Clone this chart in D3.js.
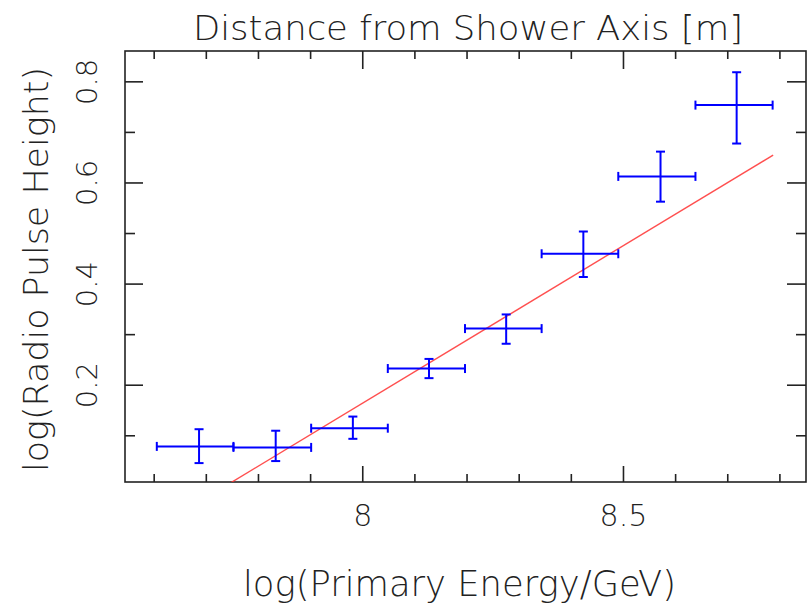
<!DOCTYPE html>
<html>
<head>
<meta charset="utf-8">
<script src="https://cdn.jsdelivr.net/npm/d3@7"></script>
<style>
  html, body { margin: 0; padding: 0; background: #fff; }
  svg { display: block; }
  text { font-family: "DejaVu Sans", "Liberation Sans", sans-serif; font-weight: 200; fill: #222; }
</style>
</head>
<body>
<svg id="chart" width="812" height="606"></svg>
<script>
// ---- data ----
const xCenter = [7.687, 7.834, 7.982, 8.128, 8.276, 8.424, 8.572, 8.718];
const xLow    = [7.606, 7.753, 7.902, 8.049, 8.197, 8.344, 8.491, 8.639];
const xHigh   = [7.753, 7.902, 8.049, 8.197, 8.344, 8.491, 8.639, 8.787];
const yValue  = [0.078, 0.076, 0.114, 0.232, 0.311, 0.459, 0.612, 0.753];
const yLow    = [0.045, 0.049, 0.093, 0.213, 0.281, 0.413, 0.562, 0.677];
const yHigh   = [0.112, 0.109, 0.137, 0.251, 0.339, 0.503, 0.661, 0.818];
const fitX = [7.60, 8.788];
const fitY = [-0.086, 0.654];
const xMajorTicks = [8, 8.5];
const xMinorTicks = [7.6, 7.7, 7.8, 7.9, 8.1, 8.2, 8.3, 8.4, 8.6, 8.7, 8.8];
const yMajorTicks = [0.2, 0.4, 0.6, 0.8];
const yMinorTicks = [0.1, 0.3, 0.5, 0.7];
const xTickLabels = ["8", "8.5"];
const yTickLabels = ["0.2", "0.4", "0.6", "0.8"];
const titleText = "Distance from Shower Axis [m]";
const xLabelText = "log(Primary Energy/GeV)";
const yLabelText = "log(Radio Pulse Height)";

// ---- layout ----
const L = 125, R = 806, T = 51, B = 482;
const svg = d3.select("#chart");
const x = d3.scaleLinear().domain([7.545, 8.851]).range([L, R]);
const y = d3.scaleLinear().domain([0.0076, 0.86]).range([B, T]);

svg.append("defs").append("clipPath").attr("id", "plotclip")
  .append("rect").attr("x", L).attr("y", T).attr("width", R - L).attr("height", B - T);

// axes (inward ticks on all four sides)
function styleAxis(g) {
  g.select(".domain").remove();
  g.selectAll(".tick line").attr("stroke", "#222").attr("stroke-width", 1.6);
}
// bottom
svg.append("g").attr("transform", `translate(0,${B})`)
  .call(d3.axisBottom(x).tickValues(xMinorTicks).tickSize(-8).tickFormat(""))
  .call(styleAxis);
const bx = svg.append("g").attr("transform", `translate(0,${B})`)
  .call(d3.axisBottom(x).tickValues(xMajorTicks).tickSize(-16)
        .tickFormat((d, i) => xTickLabels[i]))
  .call(styleAxis);
bx.selectAll(".tick text").attr("y", 44).attr("dy", null)
  .attr("font-size", 30).attr("fill", "#222").attr("font-family", null);
// top
svg.append("g").attr("transform", `translate(0,${T})`)
  .call(d3.axisTop(x).tickValues(xMinorTicks).tickSize(-8).tickFormat(""))
  .call(styleAxis);
svg.append("g").attr("transform", `translate(0,${T})`)
  .call(d3.axisTop(x).tickValues(xMajorTicks).tickSize(-18).tickFormat(""))
  .call(styleAxis);
// left
svg.append("g").attr("transform", `translate(${L},0)`)
  .call(d3.axisLeft(y).tickValues(yMinorTicks).tickSize(-10).tickFormat(""))
  .call(styleAxis);
const ly = svg.append("g").attr("transform", `translate(${L},0)`)
  .call(d3.axisLeft(y).tickValues(yMajorTicks).tickSize(-18)
        .tickFormat((d, i) => yTickLabels[i]))
  .call(styleAxis);
ly.selectAll(".tick text").attr("x", null).attr("dy", null)
  .attr("text-anchor", "middle").attr("transform", "translate(-28,0) rotate(-90)")
  .attr("font-size", 29).attr("fill", "#222").attr("font-family", null);
// right
svg.append("g").attr("transform", `translate(${R},0)`)
  .call(d3.axisRight(y).tickValues(yMinorTicks).tickSize(-10).tickFormat(""))
  .call(styleAxis);
svg.append("g").attr("transform", `translate(${R},0)`)
  .call(d3.axisRight(y).tickValues(yMajorTicks).tickSize(-19).tickFormat(""))
  .call(styleAxis);

// frame
svg.append("rect").attr("x", L).attr("y", T).attr("width", R - L).attr("height", B - T)
  .attr("fill", "none").attr("stroke", "#222").attr("stroke-width", 1.6);

// fit line
svg.append("line").attr("clip-path", "url(#plotclip)")
  .attr("x1", x(fitX[0])).attr("y1", y(fitY[0]))
  .attr("x2", x(fitX[1])).attr("y2", y(fitY[1]))
  .attr("stroke", "#ff3030").attr("stroke-width", 1.4).attr("stroke-opacity", 0.85);

// error bars
const pts = xCenter.map((d, i) => ({ x: d, xl: xLow[i], xh: xHigh[i], y: yValue[i], yl: yLow[i], yh: yHigh[i] }));
const g = svg.append("g").attr("stroke", "#0000ff").attr("stroke-width", 2).attr("fill", "none");
const cap = 4.5;
const e = g.selectAll("g.pt").data(pts).join("g").attr("class", "pt");
e.append("line").attr("x1", d => x(d.xl)).attr("x2", d => x(d.xh)).attr("y1", d => y(d.y)).attr("y2", d => y(d.y));
e.append("line").attr("x1", d => x(d.x)).attr("x2", d => x(d.x)).attr("y1", d => y(d.yl)).attr("y2", d => y(d.yh));
e.append("line").attr("x1", d => x(d.xl)).attr("x2", d => x(d.xl)).attr("y1", d => y(d.y) - cap).attr("y2", d => y(d.y) + cap);
e.append("line").attr("x1", d => x(d.xh)).attr("x2", d => x(d.xh)).attr("y1", d => y(d.y) - cap).attr("y2", d => y(d.y) + cap);
e.append("line").attr("x1", d => x(d.x) - cap).attr("x2", d => x(d.x) + cap).attr("y1", d => y(d.yl)).attr("y2", d => y(d.yl));
e.append("line").attr("x1", d => x(d.x) - cap).attr("x2", d => x(d.x) + cap).attr("y1", d => y(d.yh)).attr("y2", d => y(d.yh));

// titles
svg.append("text").attr("x", 193).attr("y", 40).attr("font-size", 34)
  .attr("textLength", 550).attr("lengthAdjust", "spacingAndGlyphs").text(titleText);
svg.append("text").attr("x", 243).attr("y", 596).attr("font-size", 36)
  .attr("textLength", 433).attr("lengthAdjust", "spacingAndGlyphs").text(xLabelText);
svg.append("text").attr("transform", "translate(48,472) rotate(-90)").attr("font-size", 34)
  .attr("textLength", 405).attr("lengthAdjust", "spacingAndGlyphs").text(yLabelText);
</script>
</body>
</html>
